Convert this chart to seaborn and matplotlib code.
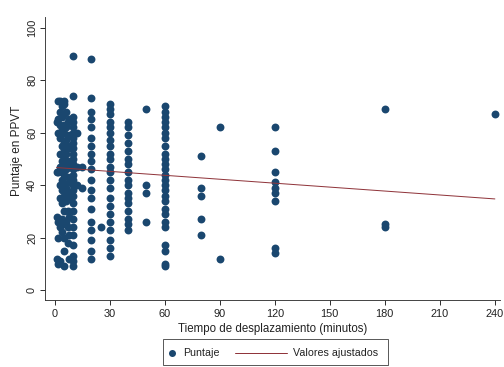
import numpy as np
import pandas as pd
import matplotlib
matplotlib.use("Agg")
import matplotlib.pyplot as plt
import seaborn as sns
from matplotlib.lines import Line2D
from matplotlib.patches import Rectangle

# Travel time (minutes) and the PPVT scores observed at each time
minutos = [1, 2, 3, 4, 5, 6, 7, 8, 10, 12, 15, 20, 25, 30, 40, 50, 60, 80, 90, 120, 180, 240]
puntajes = [
    [12, 28, 45, 64],
    [10, 20, 26, 45, 60, 65, 72],
    [11, 24, 35, 40, 47, 52, 58, 63, 68, 72],
    [22, 27, 33, 38, 42, 45, 49, 55, 61, 66, 70],
    [9, 15, 20, 25, 30, 36, 40, 44, 48, 50, 53, 56, 60, 63, 67, 71, 72],
    [26, 34, 39, 46, 52, 57, 62, 68],
    [18, 24, 30, 37, 43, 49, 55, 64],
    [12, 21, 28, 35, 41, 47, 54, 59, 65],
    [9, 11, 13, 17, 21, 24, 27, 30, 33, 36, 38, 40, 42, 44, 46, 48, 50, 52,
     54, 56, 58, 60, 62, 64, 66, 74, 89],
    [40, 47, 60],
    [39, 47],
    [12, 15, 19, 23, 26, 31, 35, 38, 42, 46, 49, 52, 55, 58, 62, 65, 68, 73, 88],
    [24],
    [13, 16, 19, 23, 26, 29, 32, 35, 39, 42, 45, 47, 50, 52, 55, 57, 60, 62,
     64, 67, 69, 71],
    [23, 25, 27, 30, 33, 35, 37, 40, 42, 45, 48, 50, 53, 56, 59, 62, 64],
    [26, 37, 40, 69],
    [9, 10, 15, 17, 24, 26, 29, 31, 34, 36, 38, 40, 42, 44, 46, 48, 50, 52,
     55, 58, 60, 62, 64, 66, 68, 70],
    [21, 27, 36, 39, 51],
    [12, 62],
    [14, 16, 34, 37, 39, 41, 45, 53, 62],
    [24, 25, 69],
    [67],
]

# Fitted linear model: score = b0 + b1 * minutes
b0 = 46.7
b1 = -0.05

tiempo = np.concatenate([[m] * len(p) for m, p in zip(minutos, puntajes)])
puntaje = np.concatenate(puntajes)
df = pd.DataFrame({"tiempo": tiempo, "puntaje": puntaje})

x_fit = np.array([tiempo.min(), tiempo.max()], dtype=float)
fit = pd.DataFrame({"tiempo": x_fit, "ajuste": b0 + b1 * x_fit})

navy = "#1a476f"
maroon = "#90353b"
ink = "#222222"

sns.set_theme(style="ticks")
plt.rcParams["font.family"] = ["Liberation Sans", "DejaVu Sans"]

W, H = 504, 367
fig = plt.figure(figsize=(W / 72, H / 72), dpi=72)
ax = fig.add_axes([45 / W, 1 - 300 / H, 455 / W, 283 / H])

sns.scatterplot(data=df, x="tiempo", y="puntaje", ax=ax, color=navy,
                s=62, linewidth=0, alpha=1, zorder=3)
sns.lineplot(data=fit, x="tiempo", y="ajuste", ax=ax, color=maroon,
             linewidth=1.0, zorder=4)

ax.set_xlim(-5.3, 242.8)
ax.set_ylim(-3.8, 104)
ax.set_xticks(range(0, 241, 30))
ax.set_yticks(range(0, 101, 20))
ax.tick_params(axis="both", which="major", direction="out", length=5,
               width=1.0, color="#333333", labelsize=11, pad=3,
               labelcolor=ink)
ax.tick_params(axis="x", pad=4)
ax.tick_params(axis="y", labelrotation=90)
for lab in ax.get_yticklabels():
    lab.set_va("center")

for side in ["top", "right"]:
    ax.spines[side].set_visible(False)
for side in ["left", "bottom"]:
    ax.spines[side].set_color("#333333")
    ax.spines[side].set_linewidth(0.9)

ax.set_xlabel("Tiempo de desplazamiento (minutos)", fontsize=11.5,
              color=ink, labelpad=4)
ax.set_ylabel("Puntaje en PPVT", fontsize=11.8, color=ink)
ax.yaxis.set_label_coords(23 / W, 1 - 151 / H, transform=fig.transFigure)

# Legend box below the axes
def fx(px):
    return px / W

def fy(py):
    return 1 - py / H

fig.add_artist(Rectangle((fx(163), fy(365)), fx(388) - fx(163), fy(339) - fy(365),
                         transform=fig.transFigure, facecolor="white",
                         edgecolor="#333333", linewidth=0.8))
fig.add_artist(Line2D([fx(172)], [fy(352.5)], marker="o", linestyle="",
                      color=navy, markersize=7, markeredgewidth=0,
                      transform=fig.transFigure))
fig.text(fx(183), fy(353), "Puntaje", fontsize=10.6, color=ink,
         ha="left", va="center")
fig.add_artist(Line2D([fx(235), fx(287)], [fy(352.5), fy(352.5)],
                      color=maroon, linewidth=1.0, transform=fig.transFigure))
fig.text(fx(293), fy(353), "Valores ajustados", fontsize=10.6, color=ink,
         ha="left", va="center")

fig.savefig("out.png", dpi=72, facecolor="white")
